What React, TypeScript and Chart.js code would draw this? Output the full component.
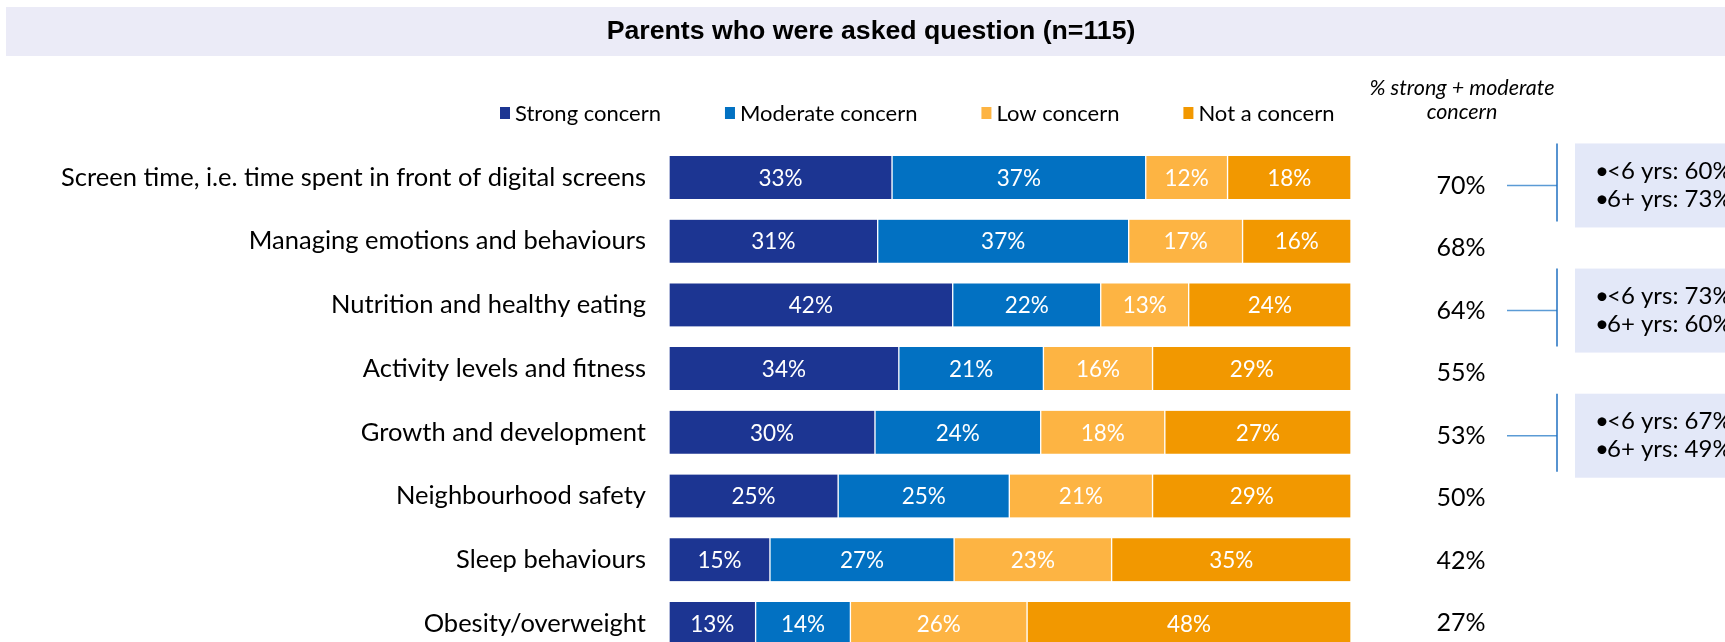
import React, { useEffect, useRef } from "react";
import { Chart, registerables } from "chart.js";

Chart.register(...registerables);

// ---------- data ----------
const categories = [
  "Screen time, i.e. time spent in front of digital screens",
  "Managing emotions and behaviours",
  "Nutrition and healthy eating",
  "Activity levels and fitness",
  "Growth and development",
  "Neighbourhood safety",
  "Sleep behaviours",
  "Obesity/overweight",
];
const seriesNames = ["Strong concern", "Moderate concern", "Low concern", "Not a concern"];
const strongConcern = [32.7, 30.6, 41.6, 33.7, 30.2, 24.8, 14.8, 12.7];
const moderateConcern = [37.2, 36.8, 21.7, 21.2, 24.3, 25.1, 27.0, 13.9];
const lowConcern = [12.0, 16.7, 12.9, 16.0, 18.2, 21.0, 23.1, 25.9];
const notAConcern = [18.1, 15.9, 23.8, 29.1, 27.3, 29.1, 35.1, 47.5];
const strongPlusModerate = [70, 68, 64, 55, 53, 50, 42, 27];
const breakdownRows = [0, 2, 4];
const under6Yrs = [60, 73, 67];
const over6Yrs = [73, 60, 49];
const titleText = "Parents who were asked question (n=115)";
const sideHeader = ["% strong + moderate", "concern"];

const seriesColors = ["#1C3592", "#0271C2", "#FDB443", "#F29800"];

const FONT = "Lato, 'DejaVu Sans', sans-serif";
const CANVAS_H = 700;

const overlayPlugin = {
  id: "overlay",
  beforeDraw(chart: any) {
    const ctx = chart.ctx;
    ctx.save();
    ctx.fillStyle = "#EBEBF7";
    ctx.fillRect(6, 7, 1719, 49);
    ctx.fillStyle = "#000";
    ctx.font = "bold 26.7px 'Liberation Sans', Arial, sans-serif";
    ctx.textAlign = "center";
    ctx.textBaseline = "middle";
    ctx.fillText(titleText, 871, 32);
    ctx.restore();
  },
  afterDatasetsDraw(chart: any) {
    const ctx = chart.ctx;
    ctx.save();
    ctx.fillStyle = "#fff";
    ctx.font = `22.5px ${FONT}`;
    ctx.textAlign = "center";
    ctx.textBaseline = "middle";
    chart.data.datasets.forEach((ds: any, di: number) => {
      const meta = chart.getDatasetMeta(di);
      meta.data.forEach((bar: any, i: number) => {
        const v = ds.data[i];
        const p = bar.getCenterPoint();
        ctx.fillText(`${Math.round(v)}%`, p.x, p.y + 1);
      });
    });
    ctx.restore();
  },
  afterDraw(chart: any) {
    const ctx = chart.ctx;
    const yScale = chart.scales.y;
    ctx.save();
    // legend
    ctx.font = `22px ${FONT}`;
    ctx.textBaseline = "middle";
    ctx.textAlign = "left";
    let x = 500;
    chart.data.datasets.forEach((ds: any) => {
      ctx.fillStyle = ds.backgroundColor;
      ctx.fillRect(x, 107, 10, 12);
      ctx.fillStyle = "#000";
      ctx.fillText(ds.label, x + 15, 114);
      x += 15 + ctx.measureText(ds.label).width + 64;
    });
    // side header
    ctx.font = `italic 21.5px ${FONT}`;
    ctx.textAlign = "center";
    ctx.fillText(sideHeader[0], 1462, 88);
    ctx.fillText(sideHeader[1], 1462, 112);
    // totals
    ctx.font = `25px ${FONT}`;
    const valueY: number[] = [];
    strongPlusModerate.forEach((v, i) => {
      const y = yScale.getPixelForValue(i) + 8 - i * 1.15;
      valueY.push(y);
      ctx.fillText(`${v}%`, 1461, y);
    });
    // breakdown boxes
    breakdownRows.forEach((row, k) => {
      const cy = valueY[row];
      const top = cy - 42;
      ctx.fillStyle = "#E3E8F8";
      ctx.fillRect(1575, top, 160, 84);
      ctx.strokeStyle = "#5B9BD5";
      ctx.lineWidth = 1.5;
      ctx.beginPath();
      ctx.moveTo(1507, cy);
      ctx.lineTo(1557, cy);
      ctx.stroke();
      ctx.strokeStyle = "#1F6FC0";
      ctx.beginPath();
      ctx.moveTo(1557, top);
      ctx.lineTo(1557, top + 78);
      ctx.stroke();
      ctx.fillStyle = "#000";
      ctx.font = `24px ${FONT}`;
      ctx.textAlign = "left";
      ctx.fillText("•", 1595, cy - 14);
      ctx.fillText(`<6 yrs: ${under6Yrs[k]}%`, 1607, cy - 14);
      ctx.fillText("•", 1595, cy + 13.5);
      ctx.fillText(`6+ yrs: ${over6Yrs[k]}%`, 1607, cy + 13.5);
    });
    ctx.restore();
  },
};

export default function App() {
  const ref = useRef<HTMLCanvasElement | null>(null);
  useEffect(() => {
    if (!ref.current) return;
    const values = [strongConcern, moderateConcern, lowConcern, notAConcern];
    const chart: any = new Chart(ref.current, {
      type: "bar",
      data: {
        labels: categories,
        datasets: values.map((d, i) => ({
          label: seriesNames[i],
          data: d,
          backgroundColor: seriesColors[i],
          borderColor: "#ffffff",
          borderWidth: { left: 1, right: 1, top: 0, bottom: 0 },
          borderSkipped: false,
          barThickness: 43,
        })),
      },
      options: {
        indexAxis: "y",
        animation: false,
        responsive: false,
        maintainAspectRatio: false,
        devicePixelRatio: 1,
        layout: { padding: { left: 0, right: 374, top: 145.6, bottom: CANVAS_H - 655.3 } },
        plugins: { legend: { display: false }, tooltip: { enabled: false }, title: { display: false } },
        scales: {
          x: { stacked: true, min: 0, max: 100, display: false },
          y: {
            stacked: true,
            grid: { display: false, drawTicks: false },
            border: { display: false },
            ticks: { color: "#000", font: { family: FONT, size: 25.5 }, padding: 23 },
            afterFit(scale: any) {
              scale.width = 669;
              scale.paddingTop = 0;
              scale.paddingBottom = 0;
            },
          },
        },
      } as any,
      plugins: [overlayPlugin],
    });
    return () => chart.destroy();
  }, []);
  return (
    <div style={{ position: "fixed", left: 0, top: 0, width: 1725, height: CANVAS_H, background: "#fff" }}>
      <canvas ref={ref} width={1725} height={CANVAS_H} style={{ display: "block", width: 1725, height: CANVAS_H }} />
    </div>
  );
}
